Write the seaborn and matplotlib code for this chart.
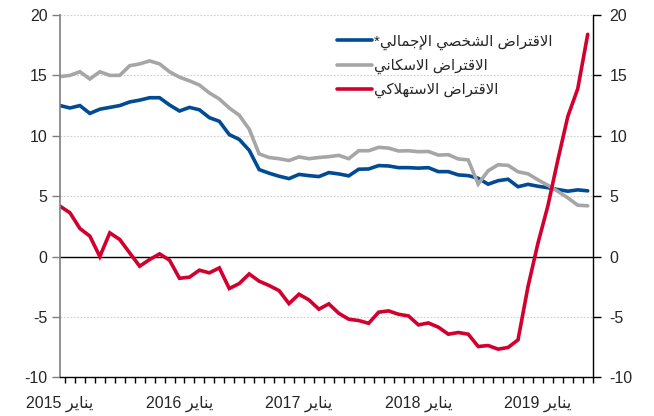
import re
import numpy as np
import pandas as pd
import matplotlib
matplotlib.use("Agg")
import matplotlib.pyplot as plt
import seaborn as sns

# ---------------- data ----------------
months = list(range(54))  # Jan 2015 .. Jun 2019
personal = [12.5, 12.3, 12.5, 11.85, 12.2, 12.35, 12.5, 12.8, 12.95, 13.15, 13.15, 12.55, 12.05,
            12.35, 12.15, 11.5, 11.2, 10.1, 9.7, 8.8, 7.2, 6.9, 6.65, 6.45, 6.8,
            6.7, 6.62, 6.95, 6.84, 6.68, 7.23, 7.25, 7.53, 7.5, 7.36, 7.36, 7.32,
            7.36, 7.03, 7.03, 6.76, 6.7, 6.48, 5.99, 6.28, 6.4, 5.78, 5.98, 5.82,
            5.7, 5.55, 5.41, 5.52, 5.44]
housing = [14.9, 15.0, 15.3, 14.7, 15.3, 15.0, 15.0, 15.8, 15.95, 16.2, 15.95, 15.3, 14.85,
           14.55, 14.2, 13.55, 13.05, 12.3, 11.7, 10.55, 8.5, 8.2, 8.1, 7.95, 8.25,
           8.1, 8.2, 8.27, 8.38, 8.1, 8.76, 8.76, 9.04, 8.98, 8.74, 8.76, 8.68,
           8.7, 8.4, 8.43, 8.08, 8.0, 6.0, 7.1, 7.6, 7.55, 7.02, 6.85, 6.35,
           5.9, 5.4, 4.86, 4.25, 4.2]
consumer = [4.17, 3.62, 2.32, 1.69, 0.0, 1.96, 1.41, 0.3, -0.8, -0.25, 0.22, -0.3, -1.8,
            -1.71, -1.13, -1.35, -0.94, -2.65, -2.24, -1.44, -2.04, -2.4, -2.82, -3.9, -3.12,
            -3.59, -4.36, -3.92, -4.7, -5.19, -5.3, -5.53, -4.61, -4.5, -4.78, -4.92, -5.66,
            -5.5, -5.85, -6.43, -6.29, -6.43, -7.45, -7.37, -7.67, -7.53, -6.9, -2.5, 1.1,
            4.2, 8.0, 11.6, 13.9, 18.4]
series_names = ["الاقتراض الشخصي الإجمالي*", "الاقتراض الاسكاني", "الاقتراض الاستهلاكي"]
series_colors = ["#004B93", "#A6A6A6", "#D2002E"]
tick_pos = [0, 12, 24, 36, 48]
tick_labels = ["يناير 2015", "يناير 2016", "يناير 2017", "يناير 2018", "يناير 2019"]
y_ticks = [-10, -5, 0, 5, 10, 15, 20]

# ---------------- Arabic shaping (presentation forms + visual order) ----------------
DUAL = {'ب': 0xFE8F, 'ت': 0xFE95, 'ث': 0xFE99, 'ج': 0xFE9D, 'ح': 0xFEA1, 'خ': 0xFEA5,
        'س': 0xFEB1, 'ش': 0xFEB5, 'ص': 0xFEB9, 'ض': 0xFEBD, 'ط': 0xFEC1, 'ظ': 0xFEC5,
        'ع': 0xFEC9, 'غ': 0xFECD, 'ف': 0xFED1, 'ق': 0xFED5, 'ك': 0xFED9, 'ل': 0xFEDD,
        'م': 0xFEE1, 'ن': 0xFEE5, 'ه': 0xFEE9, 'ي': 0xFEF1, 'ئ': 0xFE89}
RIGHT = {'ا': 0xFE8D, 'أ': 0xFE83, 'إ': 0xFE87, 'آ': 0xFE81, 'ؤ': 0xFE85, 'ة': 0xFE93,
         'د': 0xFEA9, 'ذ': 0xFEAB, 'ر': 0xFEAD, 'ز': 0xFEAF, 'و': 0xFEED, 'ى': 0xFEEF}
LAMALEF = {'ا': 0xFEFB, 'أ': 0xFEF7, 'إ': 0xFEF9, 'آ': 0xFEF5}


def shape(s):
    out = []
    i = 0
    n = len(s)
    while i < n:
        c = s[i]
        prev = s[i - 1] if i > 0 else None
        prev_conn = prev in DUAL and (c in DUAL or c in RIGHT)
        if c == 'ل' and i + 1 < n and s[i + 1] in LAMALEF:
            out.append(chr(LAMALEF[s[i + 1]] + (1 if prev_conn else 0)))
            i += 2
            continue
        if c in DUAL:
            nxt = s[i + 1] if i + 1 < n else None
            next_conn = nxt in DUAL or nxt in RIGHT
            b = DUAL[c]
            if prev_conn and next_conn:
                code = b + 3
            elif prev_conn:
                code = b + 1
            elif next_conn:
                code = b + 2
            else:
                code = b
            out.append(chr(code))
        elif c in RIGHT:
            out.append(chr(RIGHT[c] + (1 if prev_conn else 0)))
        else:
            out.append(c)
        i += 1
    return ''.join(out)


def ar(s):
    v = shape(s)[::-1]
    return re.sub(r'[0-9]+', lambda m: m.group()[::-1], v)


# ---------------- figure ----------------
sns.set_theme(style="white")
plt.rcParams['font.family'] = ['Liberation Sans', 'DejaVu Sans']

fig = plt.figure(figsize=(6.54, 4.16), dpi=100)
ax = fig.add_axes([60 / 654, 1 - 377.3 / 416, (592.7 - 60) / 654, (377.3 - 15) / 416])

df = pd.DataFrame({"month": months, "p": personal, "h": housing, "c": consumer})
for col, name, color in zip(["p", "h", "c"], series_names, series_colors):
    sns.lineplot(data=df, x="month", y=col, color=color, lw=2.6, ax=ax,
                 label=ar(name), solid_joinstyle="miter")

ax.set_xlim(0, 53.5)
ax.set_ylim(-10, 20)
ax.set_xlabel("")
ax.set_ylabel("")

# gridlines (dotted) except 0 and -10
for v in [-5, 5, 10, 15, 20]:
    ax.axhline(v, color="#CFCFCF", lw=0.8, ls=(0, (1.5, 1.5)), zorder=0)
ax.axhline(0, color="black", lw=1.0, zorder=1)

for s in ["top", "right"]:
    ax.spines[s].set_visible(False)
ax.spines["left"].set_color("#7F7F7F")
ax.spines["left"].set_linewidth(1.2)
ax.spines["bottom"].set_color("black")
ax.spines["bottom"].set_linewidth(1.0)

ax.set_yticks(y_ticks)
ax.set_yticklabels([str(v) for v in y_ticks])
ax.tick_params(axis="y", direction="out", length=6, width=1, color="#7F7F7F",
               labelsize=11.5, pad=3, left=True)

ax.set_xticks(tick_pos)
ax.set_xticklabels([ar(t) for t in tick_labels])
ax.tick_params(axis="x", which="major", length=0, pad=13, labelsize=11.5, bottom=True)
ax.set_xticks(np.arange(0.5, 53.6, 1.0), minor=True)
ax.tick_params(axis="x", which="minor", direction="out", length=4, width=1, color="black",
               bottom=True)

ax2 = ax.twinx()
ax2.set_ylim(-10, 20)
ax2.set_yticks(y_ticks)
ax2.set_yticklabels([str(v) for v in y_ticks])
for s in ["top", "left", "bottom"]:
    ax2.spines[s].set_visible(False)
ax2.spines["right"].set_color("black")
ax2.spines["right"].set_linewidth(1.0)
ax2.tick_params(axis="y", direction="out", length=6, width=1, color="black",
                labelsize=11.5, pad=6, right=True)
ax2.grid(False)
ax.grid(False)

leg = ax.legend(loc="upper left", bbox_to_anchor=((337 - 60) / 532.7, 1 - (34.5 - 15) / 362.3),
                frameon=False, fontsize=10.8, handlelength=2.35, handletextpad=0.15,
                labelspacing=0.58, borderaxespad=0, borderpad=0)
for line in leg.get_lines():
    line.set_linewidth(2.6)

fig.savefig("out.png", dpi=100)
